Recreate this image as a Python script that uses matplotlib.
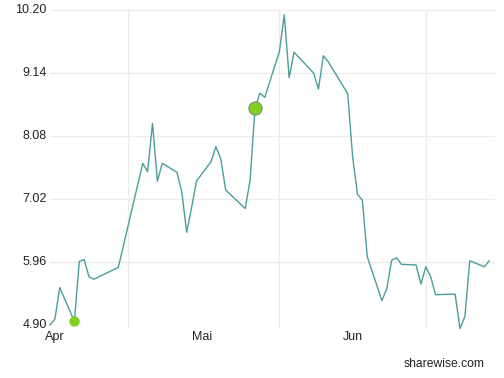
import matplotlib
matplotlib.use("Agg")
import matplotlib.pyplot as plt

# days counted from 1 April (day 0)
days = [1, 2, 3, 6, 7, 8, 9, 10, 15, 20, 21, 22, 23, 24, 27, 28, 29, 30, 31,
        34, 35, 36, 37, 41, 42, 43, 44, 45, 48, 49, 50, 51, 55, 56, 57, 58,
        62, 63, 64, 65, 66, 69, 70, 71, 72, 73, 76, 77, 78, 79, 80, 84, 85,
        86, 87, 90, 91]
prices = [4.90, 5.00, 5.53, 4.96, 5.97, 6.00, 5.71, 5.67, 5.87, 7.62, 7.48,
          8.29, 7.32, 7.62, 7.47, 7.14, 6.46, 6.87, 7.32, 7.65, 7.90, 7.69,
          7.17, 6.86, 7.34, 8.55, 8.80, 8.73, 9.50, 10.12, 9.06, 9.49, 9.14,
          8.87, 9.43, 9.33, 8.79, 7.73, 7.10, 7.00, 6.05, 5.31, 5.51, 5.99,
          6.03, 5.92, 5.91, 5.59, 5.88, 5.71, 5.41, 5.42, 4.84, 5.04, 5.98,
          5.88, 5.98]

marker_days = [6, 43]
marker_prices = [4.96, 8.55]

y_ticks = [4.90, 5.96, 7.02, 8.08, 9.14, 10.20]
month_days = [0, 30, 61]
month_labels = ["Apr", "Mai", "Jun"]
vgrid_days = [17, 48, 78]

W, H = 504, 378
fig = plt.figure(figsize=(W / 100, H / 100), dpi=100)
ax = fig.add_axes([50 / W, 1 - 325 / H, 445 / W, 315 / H])
font = "Liberation Sans"

ax.set_xlim(1, 92.17)
ax.set_ylim(4.90, 10.20)
for s in ax.spines.values():
    s.set_visible(False)
ax.set_xticks([])
ax.set_yticks([])

grid = "#ececec"
for v in y_ticks:
    ax.axhline(v, color=grid, lw=1.0, zorder=0)
    ax.text(-0.007, v, f"{v:.2f}", transform=ax.get_yaxis_transform(),
            ha="right", va="center", fontsize=9, family=font, color="#222222")
for d in vgrid_days:
    ax.plot([d, d], [4.85, 10.20], color=grid, lw=1.0, zorder=0, clip_on=False)

for d, lab in zip(month_days, month_labels):
    ax.text(d, -0.018, lab, transform=ax.get_xaxis_transform(), ha="left",
            va="top", fontsize=9, family=font, color="#222222")

ax.plot(days, prices, color="#4a9e9b", lw=1.0, zorder=2, clip_on=False)
ax.plot(marker_days[0], marker_prices[0], "o", color="#7ed321", ms=6.5,
        mec="#7ed321", zorder=3, clip_on=False)
ax.plot(marker_days[1], marker_prices[1], "o", color="#7ed321", ms=9.5,
        mec="#888888", mew=0.8, zorder=3, clip_on=False)

fig.text(485 / W, 1 - 364 / H, "sharewise.com", ha="right", va="center",
         fontsize=8.7, family=font, color="#222222")

fig.savefig("out.png", dpi=100)
